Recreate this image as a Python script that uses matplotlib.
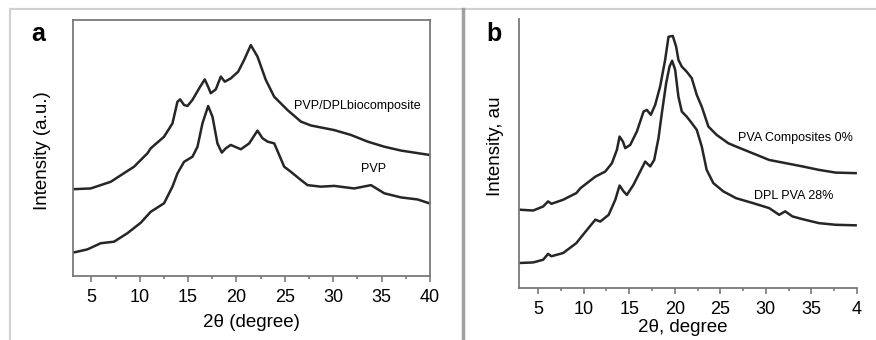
import matplotlib
matplotlib.use("Agg")
import matplotlib.pyplot as plt
from matplotlib.lines import Line2D
from matplotlib.ticker import MultipleLocator

plt.rcParams['font.family'] = ['Liberation Sans', 'DejaVu Sans']

# ---- Panel a data (2theta, intensity a.u.) ----
a_top_x = [3.07, 4.93, 7.0, 9.41, 10.79, 11.14, 12.51, 13.38, 13.9, 14.17, 14.58, 14.93, 15.45,
           16.14, 16.72, 17.07, 17.34, 17.86, 18.38, 18.79, 19.41, 20.17, 20.79, 21.48, 22.17,
           23.03, 23.9, 25.28, 26.66, 27.69, 30.1, 31.83, 33.55, 35.28, 37.0, 39.93]
a_top_y = [33.9, 34.2, 36.8, 42.7, 47.9, 49.9, 54.4, 59.6, 68.1, 69.0, 66.8, 66.4, 68.8,
           73.3, 76.8, 73.9, 71.4, 72.9, 77.9, 75.9, 77.2, 79.8, 84.4, 90.2, 85.7,
           76.6, 70.0, 64.8, 60.3, 58.8, 57.0, 55.1, 52.5, 50.5, 49.0, 47.3]

a_bot_x = [3.07, 4.59, 5.97, 7.34, 8.72, 10.1, 11.14, 12.51, 13.38, 13.9, 14.58, 15.45, 15.97,
           16.48, 17.07, 17.52, 18.03, 18.48, 18.9, 19.41, 20.45, 21.31, 22.17, 22.69, 23.21,
           23.9, 24.41, 24.93, 25.62, 26.66, 27.34, 28.72, 30.1, 32.17, 33.9, 35.28, 37.0,
           38.72, 39.93]
a_bot_y = [9.1, 10.4, 12.8, 13.4, 16.7, 20.8, 25.1, 28.4, 34.9, 40.1, 44.6, 46.6, 50.5,
           59.6, 66.4, 62.2, 51.8, 48.2, 49.9, 51.2, 49.5, 51.8, 56.8, 53.8, 52.5,
           51.8, 47.3, 42.7, 40.7, 37.5, 35.5, 34.9, 35.2, 34.2, 35.5, 32.3, 30.7,
           29.9, 28.4]

# ---- Panel b data ----
b_top_x = [2.99, 4.45, 5.55, 6.09, 6.46, 7.74, 9.2, 9.64, 11.28, 12.37, 13.1, 13.65, 13.94,
           14.31, 14.56, 15.11, 15.84, 16.57, 16.93, 17.37, 17.85, 18.39, 18.94, 19.31, 19.78,
           20.15, 20.4, 20.77, 21.31, 21.86, 22.41, 22.96, 23.69, 24.6, 25.88, 26.72, 28.54,
           30.36, 32.19, 34.01, 35.84, 37.66, 39.85]
b_top_y = [29.1, 28.8, 30.3, 32.2, 31.3, 32.8, 35.3, 37.1, 41.4, 43.3, 46.4, 51.4, 56.3,
           54.4, 52.0, 53.2, 58.2, 65.6, 66.2, 64.4, 68.1, 74.9, 84.8, 93.4, 93.7,
           89.7, 84.8, 82.3, 80.4, 78.0, 71.8, 67.4, 60.0, 56.9, 53.8, 52.6, 50.1,
           47.6, 46.4, 45.2, 43.9, 42.9, 42.7]

b_bot_x = [2.99, 4.45, 5.55, 6.09, 6.46, 7.74, 9.2, 9.64, 10.36, 11.28, 11.82, 12.74, 13.47,
           13.94, 14.38, 14.74, 15.47, 16.2, 16.75, 17.3, 17.74, 18.21, 18.58, 19.05, 19.42,
           19.71, 20.04, 20.4, 20.77, 21.31, 21.86, 22.41, 22.96, 23.5, 24.23, 25.33, 26.06,
           26.72, 28.54, 30.36, 31.46, 32.12, 32.92, 34.01, 35.84, 37.66, 39.85]
b_bot_y = [9.3, 9.5, 10.5, 12.7, 11.8, 13.0, 16.7, 18.6, 21.6, 25.4, 24.7, 27.2, 32.8,
           38.1, 35.9, 34.6, 38.4, 43.3, 47.0, 45.2, 47.6, 55.7, 65.0, 76.1, 82.3,
           84.5, 81.1, 71.1, 65.6, 63.7, 61.3, 58.8, 52.6, 43.9, 39.0, 35.9, 34.6,
           33.4, 31.6, 29.7, 27.2, 28.5, 26.6, 25.6, 24.1, 23.5, 23.3]

ticks = [5, 10, 15, 20, 25, 30, 35, 40]
a_tick_labels = ['5', '10', '15', '20', '25', '30', '35', '40']
b_tick_labels = ['5', '10', '15', '20', '25', '30', '35', '4']

W, H = 876, 340
fig = plt.figure(figsize=(W / 100, H / 100), dpi=100)

def frac(l, b, r, t):
    return [l / W, 1 - b / H, (r - l) / W, (b - t) / H]

line_kw = dict(color='#262626', lw=1.8, solid_joinstyle='round')
spine_c = '#7a7a7a'

def style(ax, labels, xlim):
    ax.set_xlim(*xlim)
    ax.set_ylim(0, 100)
    ax.set_xticks(ticks)
    ax.set_xticklabels(labels, fontsize=13)
    ax.xaxis.set_minor_locator(MultipleLocator(2.5))
    ax.tick_params(axis='x', which='major', direction='out', length=4, width=1.2,
                   color=spine_c, pad=5.5)
    ax.tick_params(axis='x', which='minor', direction='out', length=2.5, width=1.2,
                   color=spine_c)
    ax.set_yticks([])
    for s in ax.spines.values():
        s.set_color(spine_c)
        s.set_linewidth(1.3)

# Panel a
axa = fig.add_axes(frac(72.5, 276, 430, 20))
axa.plot(a_top_x, a_top_y, **line_kw)
axa.plot(a_bot_x, a_bot_y, **line_kw)
style(axa, a_tick_labels, (3.05, 40))
axa.text(25.97, 66.4, 'PVP/DPLbiocomposite', fontsize=9, ha='left', va='center')
axa.text(34.17, 41.7, 'PVP', fontsize=9, ha='center', va='center')
axa.text(0.5, -0.18, '2θ (degree)', transform=axa.transAxes, fontsize=13.5,
         ha='center', va='center')
axa.text(-0.085, 0.49, 'Intensity (a.u.)', transform=axa.transAxes, fontsize=13.5,
         ha='center', va='center', rotation=90)

# Panel b
axb = fig.add_axes(frac(519, 288, 857, 19))
axb.plot(b_top_x, b_top_y, **line_kw)
axb.plot(b_bot_x, b_bot_y, **line_kw)
style(axb, b_tick_labels, (2.9, 40))
axb.spines['top'].set_visible(False)
axb.spines['right'].set_visible(False)
axb.text(26.9, 55.9, 'PVA Composites 0%', fontsize=9, ha='left', va='center')
axb.text(28.65, 34.3, 'DPL PVA 28%', fontsize=9, ha='left', va='center')
axb.text(0.485, -0.145, '2θ, degree', transform=axb.transAxes, fontsize=13.5,
         ha='center', va='center')
axb.text(-0.071, 0.526, 'Intensity, au', transform=axb.transAxes, fontsize=13.5,
         ha='center', va='center', rotation=90)

# Panel letters
fig.text(38 / W, 1 - 34 / H, 'a', fontsize=18, fontweight='bold', ha='center', va='center')
fig.text(494 / W, 1 - 34 / H, 'b', fontsize=18, fontweight='bold', ha='center', va='center')

# Frame lines
fig.add_artist(Line2D([10 / W, 1], [1 - 8.5 / H, 1 - 8.5 / H], color='#d0d0d0', lw=1.5,
                      transform=fig.transFigure))
fig.add_artist(Line2D([10 / W, 10 / W], [0, 1 - 8.5 / H], color='#d0d0d0', lw=1.5,
                      transform=fig.transFigure))
fig.add_artist(Line2D([463.5 / W, 463.5 / W], [0, 1 - 8.5 / H], color='#a0a0a0', lw=2.5,
                      transform=fig.transFigure))

fig.savefig('out.png', dpi=100)
